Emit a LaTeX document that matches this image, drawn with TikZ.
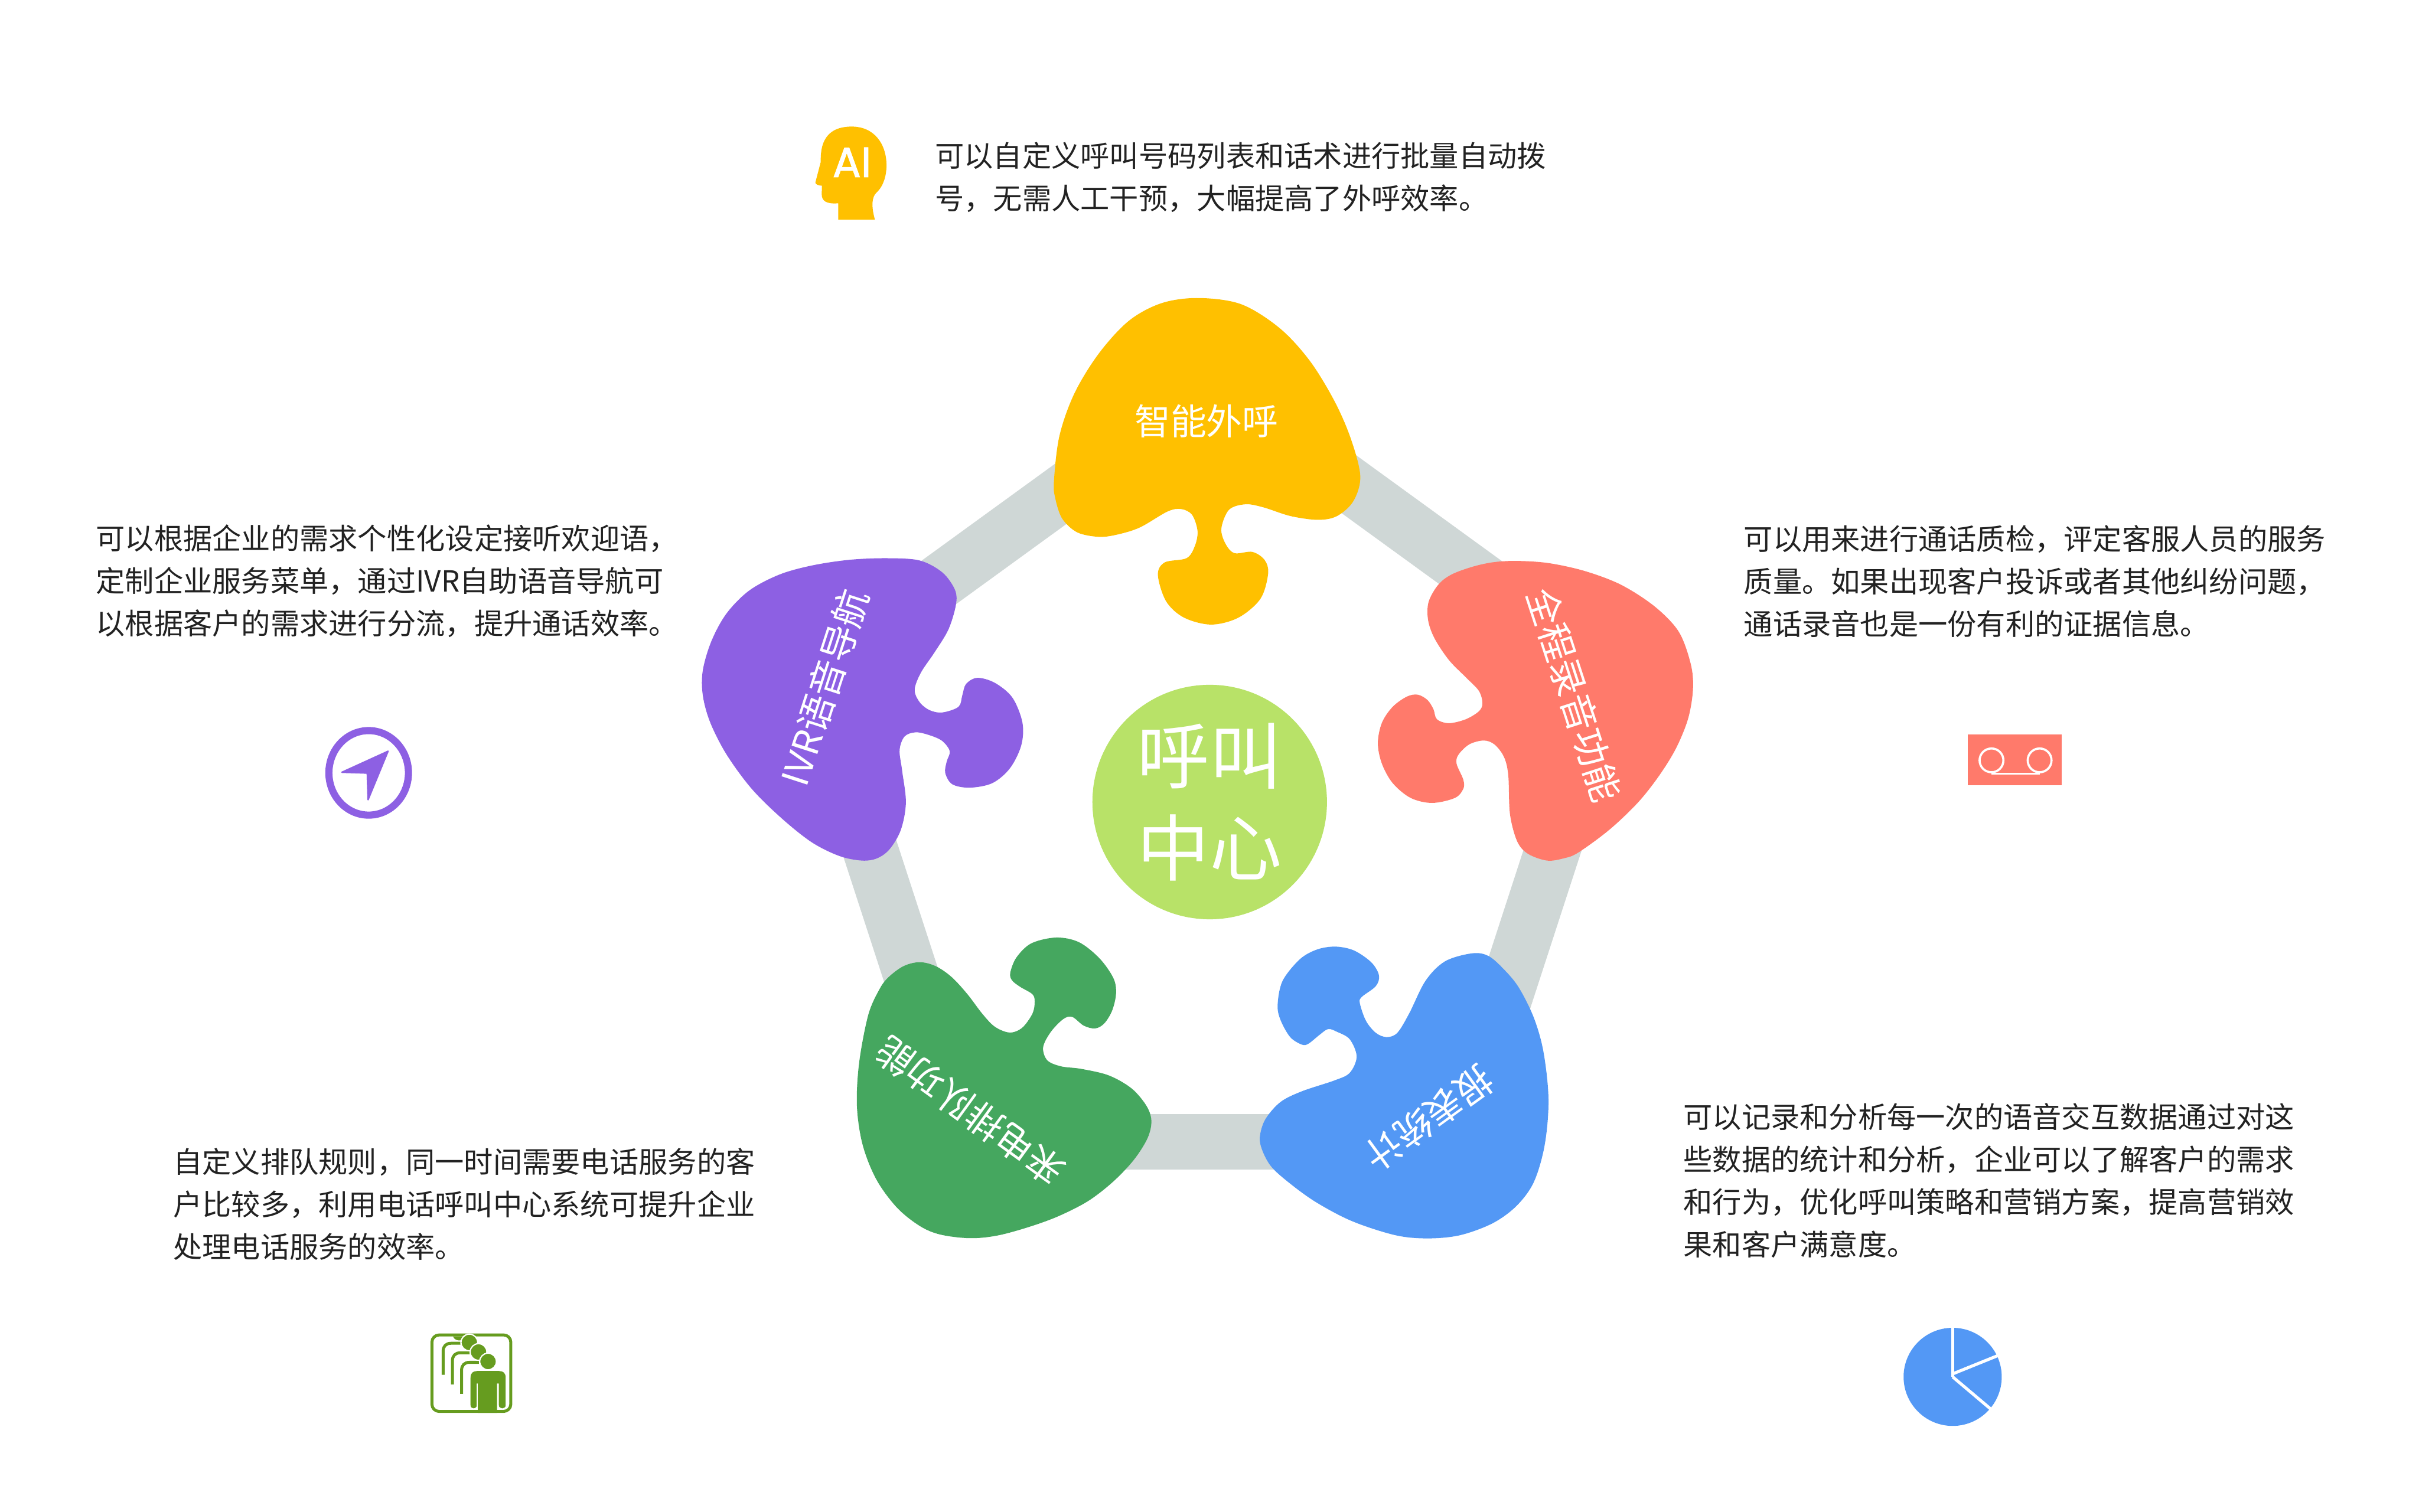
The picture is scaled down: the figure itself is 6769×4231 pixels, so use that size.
\documentclass[tikz,border=0pt]{standalone}
\usepackage{fontspec}
\setmainfont{Noto Sans CJK SC}
\newfontfamily\iconfont{Poppins}[FakeBold=1.6]

\definecolor{ringgray}{HTML}{CFD7D6}
\definecolor{callyellow}{HTML}{FFC000}
\definecolor{callpurple}{HTML}{8D60E3}
\definecolor{callcoral}{HTML}{FF7A6B}
\definecolor{callgreen}{HTML}{45A75F}
\definecolor{callblue}{HTML}{5398F5}
\definecolor{hublime}{HTML}{B8E268}
\definecolor{queuegreen}{HTML}{669C1F}
\definecolor{infogray}{HTML}{222222}

\tikzset{
  infotext/.style={anchor=west,inner sep=0pt,align=left,text=infogray,
    font=\fontsize{23.15}{33.9}\selectfont},
  blobtext/.style={inner sep=0pt,text=white,font=\fontsize{29.4}{34}\selectfont},
  queueline/.style={queuegreen,line width=0.083cm},
  queuehead/.style={fill=queuegreen,draw=white,line width=0.035cm},
  piecut/.style={white,line width=0.085cm},
}

\begin{document}
\begin{tikzpicture}[x=0.01cm,y=-0.01cm]
\useasboundingbox (0,0) rectangle (6769,4231);

% ring
\draw[ringgray,line width=1.55cm,line join=round] (3390,1076) -- (4505,1886) -- (4079,3196) -- (2701,3196) -- (2275,1886) -- cycle;

% blobs
\begin{scope}[shift={(2800,750)},xscale=0.7653,yscale=0.7015]
\fill[callyellow] plot[smooth cycle,tension=0.55] coordinates {
(725,120)(880,145)(1020,240)(1130,370)(1220,530)(1280,680)(1315,830)(1290,930)(1230,990)(1160,1005)
(1060,990)(960,955)(895,943)(835,965)(807,1040)(822,1100)(855,1138)(920,1133)(965,1165)(978,1220)
(950,1320)(870,1395)(770,1423)(670,1395)(605,1330)(575,1225)(600,1175)(680,1158)(710,1110)(720,1050)
(700,985)(660,962)(610,972)(510,1035)(430,1063)(360,1073)(280,1055)(225,1000)(200,920)(195,850)
(215,670)(270,500)(360,340)(470,210)(590,140)};
\end{scope}

\begin{scope}[shift={(1900,1500)},xscale=0.7015,yscale=0.6378]
\fill[callpurple] plot[smooth cycle,tension=0.55] coordinates {
(830,98)(960,108)(1050,160)(1100,235)(1105,300)(1075,410)(1020,510)(965,600)(940,675)(960,730)
(1000,765)(1050,775)(1115,750)(1130,700)(1145,650)(1190,623)(1260,645)(1330,710)(1370,820)(1365,920)
(1320,1020)(1250,1085)(1160,1105)(1090,1090)(1062,1040)(1068,990)(1080,945)(1050,900)(1000,875)(945,862)
(900,880)(880,940)(890,1030)(905,1170)(885,1290)(840,1375)(790,1415)(730,1425)(640,1405)(530,1345)
(410,1240)(290,1110)(190,960)(125,820)(95,700)(95,590)(130,460)(190,340)(280,240)(400,170)
(530,130)(680,105)};
\end{scope}

\begin{scope}[shift={(3800,1500)},xscale=0.6696,yscale=0.6378]
\fill[callcoral] plot[smooth cycle,tension=0.55] coordinates {
(670,110)(800,120)(950,155)(1100,215)(1240,310)(1340,420)(1390,560)(1400,670)(1380,800)(1330,930)
(1260,1050)(1170,1170)(1050,1290)(920,1390)(860,1415)(790,1425)(710,1395)(665,1340)(635,1220)(628,1050)
(610,970)(570,915)(525,898)(465,915)(420,960)(412,1000)(440,1070)(440,1110)(405,1150)(310,1172)
(220,1150)(145,1085)(100,1000)(83,910)(100,820)(145,750)(205,705)(250,697)(290,720)(315,760)
(330,805)(380,822)(450,805)(505,770)(520,735)(505,680)(450,620)(380,545)(320,450)(293,370)
(295,290)(335,215)(390,170)(480,135)(570,115)};
\end{scope}

\begin{scope}[shift={(2350,2580)},xscale=0.6378,yscale=0.6059]
\fill[callgreen] plot[smooth cycle,tension=0.55] coordinates {
(350,187)(420,205)(490,255)(560,335)(625,425)(680,485)(745,512)(800,490)(845,425)(855,370)
(845,335)(790,300)(755,270)(748,235)(775,165)(840,100)(950,73)(1050,95)(1140,170)(1200,260)
(1212,330)(1195,410)(1160,470)(1120,493)(1070,480)(1020,440)(980,450)(925,510)(892,580)(910,640)
(970,668)(1060,680)(1180,710)(1280,770)(1345,850)(1367,920)(1350,1000)(1290,1100)(1200,1200)(1090,1290)
(960,1360)(830,1410)(690,1450)(570,1462)(440,1445)(350,1405)(250,1320)(160,1190)(100,1030)(75,850)
(85,650)(125,430)(175,310)(215,255)(280,205)};
\end{scope}

\begin{scope}[shift={(3480,2600)},scale=0.6059]
\fill[callblue] plot[smooth cycle,tension=0.55] coordinates {
(425,82)(510,100)(590,155)(625,215)(610,265)(545,315)(537,345)(565,425)(610,480)(660,500)
(710,480)(765,390)(840,240)(930,150)(1055,113)(1130,125)(1200,185)(1270,270)(1340,410)(1385,570)
(1408,790)(1390,1000)(1340,1170)(1260,1280)(1150,1360)(1000,1415)(850,1430)(700,1415)(500,1350)(330,1260)
(200,1165)(125,1095)(85,1020)(75,960)(100,880)(170,800)(270,750)(420,700)(490,665)(522,590)
(490,510)(430,475)(390,463)(350,490)(300,530)(270,535)(215,500)(170,420)(157,350)(180,240)
(260,140)(340,95)};
\end{scope}

% hub
\node[circle,fill=hublime,minimum size=6.56cm,inner sep=0pt,align=center,text=white,
  font=\fontsize{57.5}{73.7}\selectfont] (hub) at (3385,2245) {呼叫\\中心};

% blob labels
\node[blobtext,font=\fontsize{28.6}{34}\selectfont] (smartcall) at (3376,1178) {智能外呼};
\node[blobtext,rotate=72] (ivrnav) at (2307,1924) {IVR语音导航};
\node[blobtext,rotate=-72] (recording) at (4405,1945) {全程录音功能};
\node[blobtext,rotate=144] (queuing) at (2715,3110) {来电排队功能};
\node[blobtext,rotate=-144] (reports) at (3998,3130) {报表统计};

% descriptions
\node[infotext] (smartinfo) at (2616,496) {可以自定义呼叫号码列表和话术进行批量自动拨\\号，无需人工干预，大幅提高了外呼效率。};
\node[infotext] (ivrinfo) at (268,1627) {可以根据企业的需求个性化设定接听欢迎语，\\定制企业服务菜单，通过IVR自助语音导航可\\以根据客户的需求进行分流，提升通话效率。};
\node[infotext] (recordinfo) at (4879,1627) {可以用来进行通话质检，评定客服人员的服务\\质量。如果出现客户投诉或者其他纠纷问题，\\通话录音也是一份有利的证据信息。};
\node[infotext] (queueinfo) at (484,3371) {自定义排队规则，同一时间需要电话服务的客\\户比较多，利用电话呼叫中心系统可提升企业\\处理电话服务的效率。};
\node[infotext] (reportinfo) at (4710,3305) {可以记录和分析每一次的语音交互数据通过对这\\些数据的统计和分析，企业可以了解客户的需求\\和行为，优化呼叫策略和营销方案，提高营销效\\果和客户满意度。};

% AI head
\begin{scope}[shift={(2230,320)},scale=0.3333]
\fill[callyellow] (347,885) -- (347,747) .. controls (250,755) and (208,730) .. (208,670) -- (210,600)
  .. controls (180,597) and (155,590) .. (155,572) -- (200,400) .. controls (195,250) and (240,103) .. (460,103)
  .. controls (650,103) and (752,250) .. (752,430) .. controls (752,540) and (710,620) .. (670,655)
  .. controls (625,695) and (625,780) .. (655,885) -- cycle;
\node[inner sep=0pt,text=white,font=\iconfont\fontsize{33.5}{36}\selectfont] (aimark) at (462,403) {AI};
\end{scope}

% compass
\begin{scope}[shift={(880,2000)},scale=0.3333]
\draw[callpurple,line width=0.2cm] (455,490) ellipse [x radius=334,y radius=355];
\filldraw[callpurple,line width=0.04cm,line join=round] (618,308) -- (230,485) -- (443,492) -- (450,716) -- cycle;
\end{scope}

% tape
\begin{scope}[shift={(5480,2030)},scale=0.3333]
\fill[callcoral] (80,76) rectangle (868,505);
\draw[white,line width=0.06cm] (278,295) circle [radius=100];
\draw[white,line width=0.06cm] (682,295) circle [radius=100];
\draw[white,line width=0.06cm] (278,408) -- (682,408);
\end{scope}

% queue
\begin{scope}[shift={(1180,3700)},scale=0.3333]
\draw[queueline,rounded corners=0.2cm] (86,110) rectangle (748,752);
\fill[queuegreen] (262,122) .. controls (275,150) and (300,160) .. (330,155) -- (345,122) -- cycle;
\draw[queueline] (180,445) -- (180,245) .. controls (180,205) and (205,180) .. (245,180) -- (325,180);
\draw[queueline] (258,525) -- (258,325) .. controls (258,285) and (283,260) .. (323,260) -- (403,260);
\draw[queueline] (335,605) -- (335,405) .. controls (335,365) and (360,340) .. (400,340) -- (480,340);
\filldraw[queuehead] (400,173) circle [radius=70];
\filldraw[queuehead] (477,253) circle [radius=70];
\filldraw[queuehead] (557,333) circle [radius=70];
\fill[queuegreen] (472,765) -- (472,518) -- (462,518) -- (462,700) .. controls (462,735) and (410,735) .. (410,700)
  -- (410,470) .. controls (410,430) and (430,413) .. (465,413) -- (650,413) .. controls (685,413) and (705,430) .. (705,470)
  -- (705,700) .. controls (705,735) and (648,735) .. (648,700) -- (648,518) -- (632,518) -- (632,765) -- cycle;
\end{scope}

% pie
\begin{scope}[shift={(5300,3680)},scale=0.3333]
\fill[callblue] (492,522) circle [radius=412];
\coordinate (piehub) at (492,522);
\coordinate (pietop) at (492,90);
\coordinate (pieright) at (880,340);
\coordinate (piebottom) at (815,795);
\draw[piecut] (piehub) -- (pietop);
\draw[piecut] (492,497) -- (pieright);
\draw[piecut] (piehub) -- (piebottom);
\end{scope}

\end{tikzpicture}
\end{document}
